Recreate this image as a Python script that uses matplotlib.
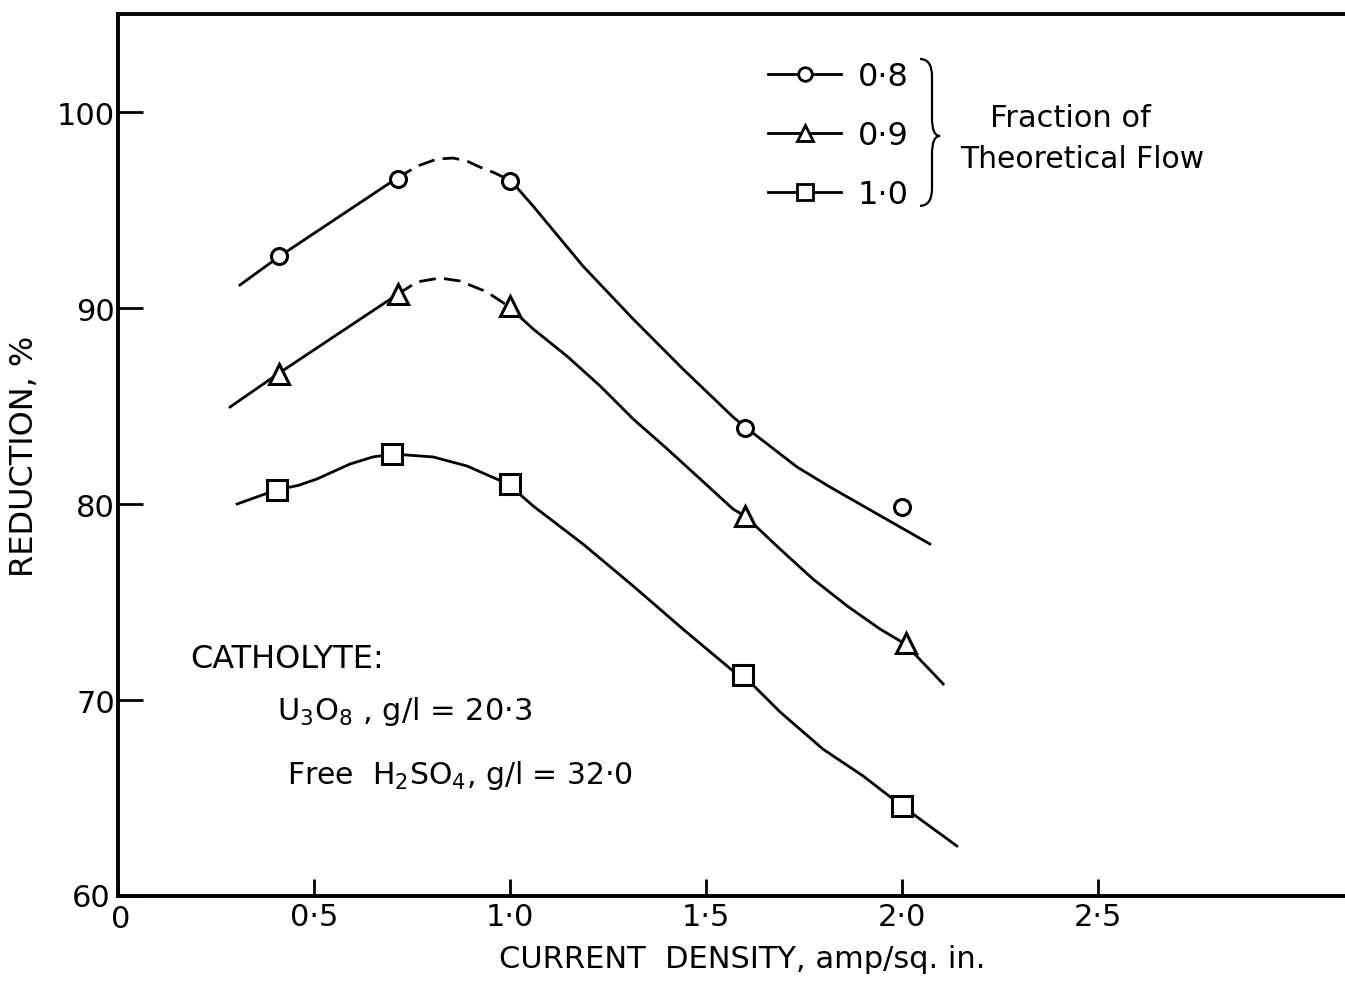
import numpy as np
import matplotlib
matplotlib.use("Agg")
import matplotlib.pyplot as plt
from matplotlib.path import Path
from matplotlib.patches import PathPatch
from matplotlib.transforms import ScaledTranslation

plt.rcParams["font.family"] = ["DejaVu Sans"]
plt.rcParams["mathtext.fontset"] = "dejavusans"

# measured points, one list per flow fraction
flows = ["0·8", "0·9", "1·0"]
markers = ["o", "^", "s"]

pts_x_08 = [0.41, 0.715, 1.0, 1.6, 2.0]
pts_y_08 = [92.65, 96.6, 96.5, 83.9, 79.85]
pts_x_09 = [0.41, 0.715, 1.0, 1.6, 2.01]
pts_y_09 = [86.65, 90.7, 90.1, 79.4, 72.9]
pts_x_10 = [0.405, 0.70, 1.0, 1.595, 2.0]
pts_y_10 = [80.7, 82.55, 81.0, 71.3, 64.6]

# hand drawn fitted curves
crv_x_08 = [0.311, 0.413, 0.712, 0.765, 0.814, 0.855, 0.890, 0.923, 0.96, 1.003,
            1.059, 1.186, 1.314, 1.441, 1.569, 1.6, 1.732, 1.816, 1.901, 2.071]
crv_y_08 = [91.17, 92.65, 96.63, 97.25, 97.60, 97.65, 97.50, 97.19, 96.9, 96.48,
            95.20, 92.14, 89.44, 86.89, 84.44, 83.93, 81.89, 80.87, 79.90, 77.96]
crv_x_09 = [0.286, 0.411, 0.714, 0.763, 0.821, 0.872, 0.941, 0.995,
            1.059, 1.145, 1.230, 1.314, 1.401, 1.485, 1.569, 1.6,
            1.689, 1.773, 1.860, 1.944, 2.008, 2.105]
crv_y_09 = [84.95, 86.68, 90.71, 91.33, 91.53, 91.38, 90.82, 90.10,
            88.93, 87.55, 86.02, 84.34, 82.81, 81.28, 79.74, 79.38,
            77.70, 76.17, 74.80, 73.62, 72.86, 70.82]
crv_x_10 = [0.304, 0.403, 0.46, 0.508, 0.592, 0.65, 0.702, 0.804, 0.890, 0.995,
            1.059, 1.186, 1.314, 1.441, 1.569, 1.594, 1.689, 1.798, 1.901,
            1.997, 2.140]
crv_y_10 = [80.0, 80.71, 80.95, 81.28, 82.04, 82.4, 82.55, 82.40, 81.94, 81.02,
            79.90, 77.96, 75.82, 73.62, 71.48, 71.28, 69.39, 67.50, 66.12,
            64.64, 62.55]

# part of each curve drawn dashed (None = all solid)
dash_span = [(0.712, 1.003), (0.714, 0.995), None]

xticks = [0, 0.5, 1.0, 1.5, 2.0, 2.5]
xtick_labels = ["0", "0·5", "1·0", "1·5", "2·0", "2·5"]
yticks = [60, 70, 80, 90, 100]

points = [(pts_x_08, pts_y_08), (pts_x_09, pts_y_09), (pts_x_10, pts_y_10)]
curves = [(crv_x_08, crv_y_08), (crv_x_09, crv_y_09), (crv_x_10, crv_y_10)]

fig = plt.figure(figsize=(13.45, 9.87), dpi=100)
ax = fig.add_axes([118 / 1345, 90 / 987, 1227 / 1345, 882 / 987])
ax.set_xlim(0, 1227 / 392)
ax.set_ylim(60, 60 + 882 / 19.6)

lw = 2.0
ms = {"o": 11.5, "^": 14, "s": 14}
for (cx, cy), span in zip(curves, dash_span):
    cx = np.array(cx)
    cy = np.array(cy)
    if span is None:
        ax.plot(cx, cy, color="black", lw=lw, zorder=2)
        continue
    lo, hi = span
    left = cx <= lo + 1e-9
    mid = (cx >= lo - 1e-9) & (cx <= hi + 1e-9)
    right = cx >= hi - 1e-9
    ax.plot(cx[left], cy[left], color="black", lw=lw, zorder=2)
    ax.plot(cx[mid], cy[mid], color="black", lw=lw, zorder=2,
            dashes=(6, 3))
    ax.plot(cx[right], cy[right], color="black", lw=lw, zorder=2)

handles = []
for (px, py), m in zip(points, markers):
    ax.plot(px, py, linestyle="none", marker=m, ms=ms[m], mfc="white",
            mec="black", mew=2.2, zorder=3)
    h, = ax.plot([], [], color="black", lw=lw, marker=m, ms=ms[m] * 0.85,
                 mfc="white", mec="black", mew=2.0)
    handles.append(h)

leg = ax.legend(handles, flows, loc="upper left", bbox_to_anchor=(0.5297, 0.947),
                frameon=False, fontsize=23, handlelength=2.3, handletextpad=0.5,
                labelspacing=0.88, borderaxespad=0, borderpad=0)

# brace joining the legend entries
xl, xs, xt = 0.6536, 0.6634, 0.670
yt, ym, yb = 0.949, 0.8617, 0.7825
d = 0.02
verts = [(xl, yt), (xs, yt), (xs, yt - d),
         (xs, ym + d), (xs, ym), (xt, ym),
         (xs, ym), (xs, ym - d),
         (xs, yb + d), (xs, yb), (xl, yb)]
codes = [Path.MOVETO, Path.CURVE3, Path.CURVE3,
         Path.LINETO, Path.CURVE3, Path.CURVE3,
         Path.CURVE3, Path.CURVE3,
         Path.LINETO, Path.CURVE3, Path.CURVE3]
ax.add_patch(PathPatch(Path(verts, codes), transform=ax.transAxes,
                       fill=False, lw=1.6, color="black"))
ax.text(0.7107, 0.873, "Fraction of", transform=ax.transAxes, fontsize=22,
        va="baseline", ha="left")
ax.text(0.686, 0.8265, "Theoretical Flow", transform=ax.transAxes, fontsize=21.5,
        va="baseline", ha="left")

ax.text(0.0587, 0.2596, "CATHOLYTE:", transform=ax.transAxes, fontsize=23,
        va="baseline")
ax.text(0.1296, 0.2007, r"U$_3$O$_8$ , g/l = 20·3", transform=ax.transAxes,
        fontsize=22, va="baseline")
ax.text(0.1377, 0.128, r"Free  H$_2$SO$_4$, g/l = 32·0", transform=ax.transAxes,
        fontsize=21.5, va="baseline")

ax.set_xticks(xticks)
ax.set_xticklabels(xtick_labels)
ax.set_yticks(yticks)
ax.tick_params(axis="both", direction="in", labelsize=22, width=2.0, pad=4)
ax.tick_params(axis="y", length=18, pad=2)
ax.tick_params(axis="x", length=12)

# corner labels: nudge "60" left and "0" right/down so they sit apart
ylab0 = ax.get_yticklabels()[0]
ylab0.set_transform(ylab0.get_transform() + ScaledTranslation(-5 / 100, 2 / 100, fig.dpi_scale_trans))
xlab0 = ax.get_xticklabels()[0]
xlab0.set_transform(xlab0.get_transform() + ScaledTranslation(3 / 100, -2 / 100, fig.dpi_scale_trans))

for side in ["left", "bottom", "top"]:
    ax.spines[side].set_linewidth(2.8)
ax.spines["right"].set_visible(False)

ax.set_xlabel("CURRENT  DENSITY, amp/sq. in.", fontsize=22, labelpad=8, x=0.509)
ax.set_ylabel("REDUCTION, %", fontsize=23, labelpad=12)

fig.savefig("out.png", dpi=100)
